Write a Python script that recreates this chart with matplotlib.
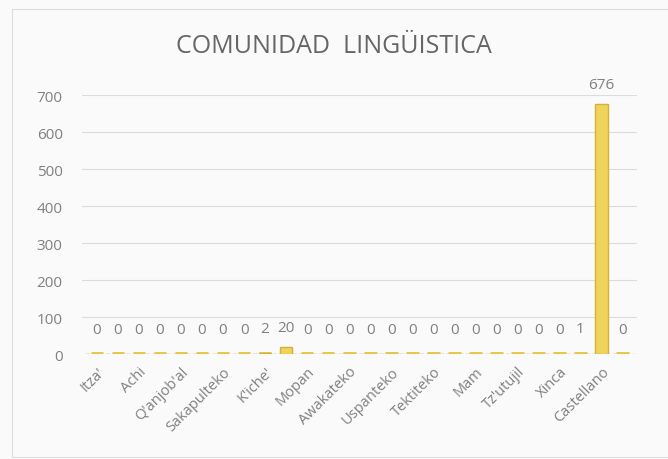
"""Bar chart of students per linguistic community (produces out.png)."""

import numpy as np
import matplotlib.pyplot as plt
from matplotlib.patches import Rectangle

# Linguistic communities (Excel only shows every other label)
comunidades = [
    "Itza'", "Ixil", "Achi", "Akateko", "Q'anjob'al", "Q'eqchi'",
    "Sakapulteko", "Sipakapense", "K'iche'", "Kaqchikel", "Mopan",
    "Poqomchi'", "Awakateko", "Ch'orti'", "Uspanteko", "Chuj",
    "Tektiteko", "Chalchiteko", "Mam", "Jakalteko", "Tz'utujil",
    "Poqomam", "Xinca", "Garífuna", "Castellano", "Otro",
]
alumnos = [0, 0, 0, 0, 0, 0, 0, 0, 2, 20, 0, 0, 0,
           0, 0, 0, 0, 0, 0, 0, 0, 0, 0, 1, 676, 0]
y_ticks = [0, 100, 200, 300, 400, 500, 600, 700]

TEXT = '#808080'
BAR = '#F0D35A'
BAR_EDGE = '#D6B03A'
GRID = '#DCDCDC'


def main():
    plt.rcParams['font.family'] = ['Open Sans', 'DejaVu Sans']

    fig = plt.figure(figsize=(6.68, 4.6), dpi=100, facecolor='#FAFAFA')
    # light chart border like the Excel chart area
    fig.patches.append(Rectangle((0.018, 0.004), 0.99, 0.975, transform=fig.transFigure,
                                 fill=False, edgecolor='#DDDDDD', linewidth=0.8))

    ax = fig.add_axes([0.123, 0.228, 0.831, 0.563])
    ax.set_facecolor('#FAFAFA')

    x = np.arange(len(comunidades))
    vals = np.array(alumnos)

    # floor slabs under every category (3D look of the original)
    ax.hlines(np.zeros(len(x)), -0.5, len(x) - 0.5, color='#E6E6E6',
              linewidth=0.8, linestyle=(0, (3, 3)), zorder=2)
    ax.hlines(np.zeros(len(x)), x - 0.3, x + 0.3, color='#E9C94C', linewidth=3.6, zorder=3)
    ax.bar(x, vals, width=0.6, color=BAR, edgecolor=BAR_EDGE, linewidth=1.0, zorder=4)

    for xi, v in zip(x, vals):
        off = 14 if v > 5 else 18
        ax.annotate(str(v), (xi, v), xytext=(0, off), textcoords='offset points',
                    ha='center', va='center', fontsize=11, color=TEXT)

    ax.set_ylim(0, 700)
    ax.set_xlim(-0.7, len(x) - 0.3)
    ax.set_yticks(y_ticks)
    ax.set_yticklabels([str(t) for t in y_ticks], fontsize=11, color=TEXT)
    ax.yaxis.grid(True, color=GRID, linewidth=0.8)
    ax.set_axisbelow(True)

    ax.set_xticks(x[::2])
    ax.set_xticklabels(comunidades[::2], rotation=45, ha='right',
                       rotation_mode='anchor', fontsize=10.5, color=TEXT)
    ax.tick_params(axis='x', length=0, pad=7)
    ax.tick_params(axis='y', length=0, pad=14)
    for s in ax.spines.values():
        s.set_visible(False)

    fig.text(0.5, 0.898, 'COMUNIDAD  LINGÜISTICA', ha='center', va='center',
             fontsize=18, color='#666666')

    fig.savefig('out.png', dpi=100, facecolor=fig.get_facecolor())


if __name__ == "__main__":
    main()
